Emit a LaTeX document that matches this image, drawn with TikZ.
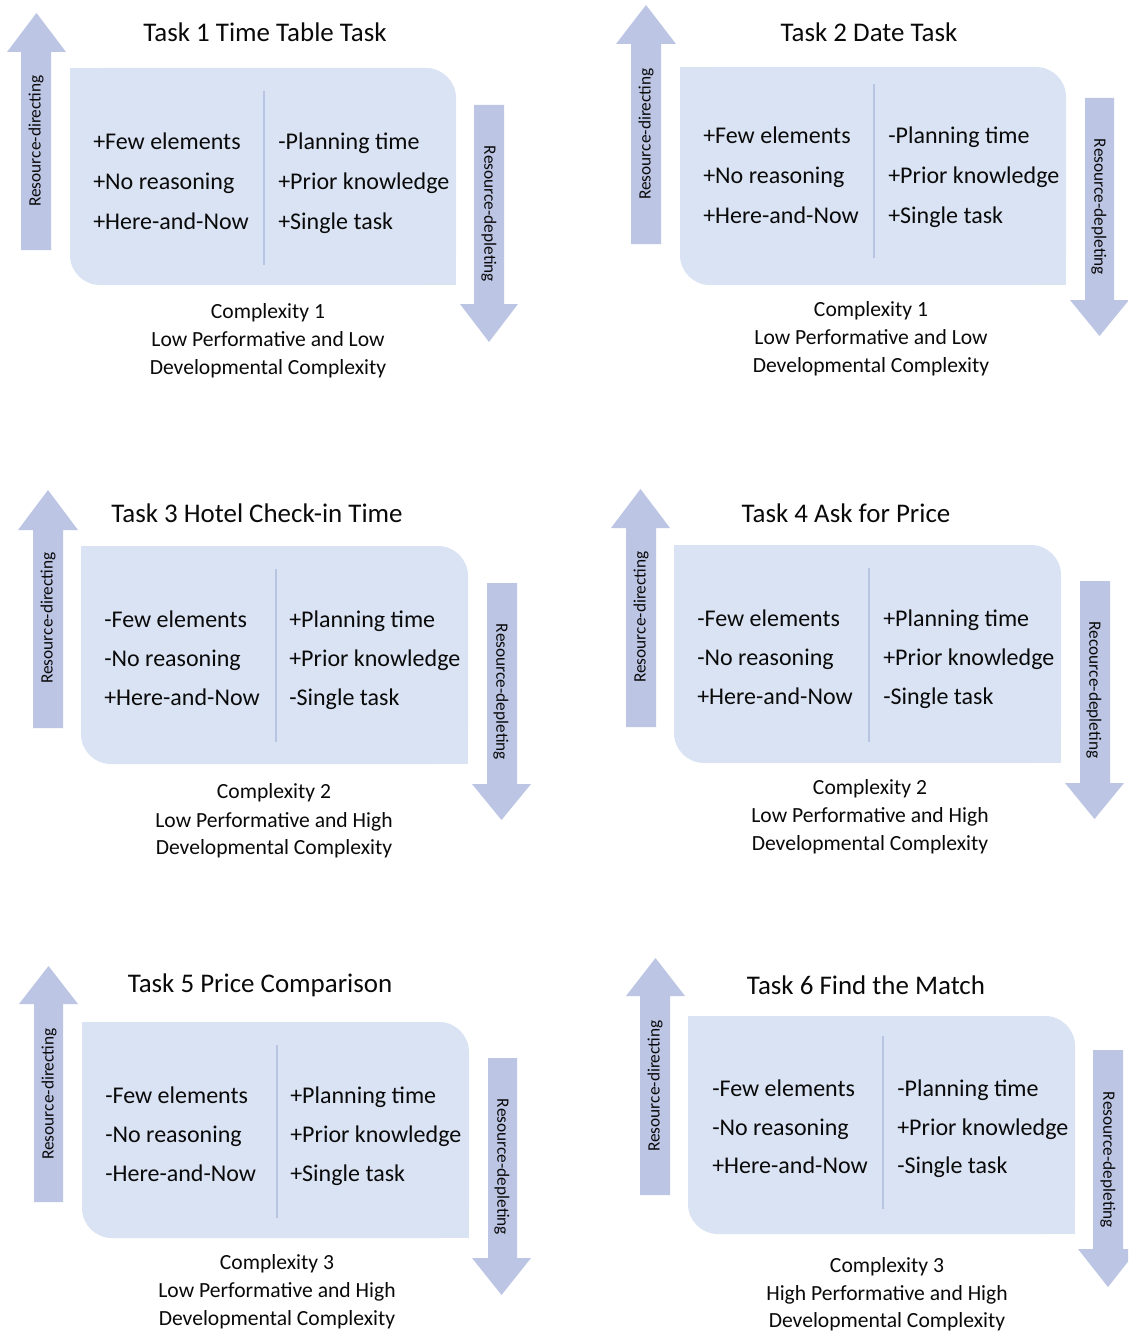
\documentclass[tikz,border=0pt]{standalone}
\usepackage{fontspec}
\setmainfont{Carlito}
\usetikzlibrary{calc}
\definecolor{arrowblue}{RGB}{188,197,228}
\definecolor{boxblue}{RGB}{218,227,243}
\definecolor{divblue}{RGB}{184,197,226}
\definecolor{txt}{RGB}{10,10,10}
\tikzset{
  arrowfill/.style={fill=arrowblue, draw=none},
  boxfill/.style={fill=boxblue, draw=none},
  divline/.style={draw=divblue, line width=1.1pt},
  item/.style={anchor=base west, font=\fontsize{18}{22}\selectfont, inner sep=0pt, text=txt},
  ttl/.style={anchor=base, font=\fontsize{20.2}{24}\selectfont, inner sep=0pt, text=txt},
  cmp/.style={anchor=base, font=\fontsize{16.2}{20}\selectfont, inner sep=0pt, text=txt},
  lblup/.style={font=\fontsize{13}{15}\selectfont, inner sep=0pt, rotate=90, text=txt},
  lbldown/.style={font=\fontsize{13}{15}\selectfont, inner sep=0pt, rotate=-90, text=txt}
}
% box with rounded top-right and bottom-left corners
\newcommand\diagbox[4]{%
  \fill[boxfill, rounded corners=22.5pt] (#1,#2) rectangle (#3,#4);
  \fill[boxfill] (#1,#2) rectangle ($(#1,#2)+(45,45)$);
  \fill[boxfill] ($(#3,#4)+(-45,-45)$) rectangle (#3,#4);
}
% block arrow: shaft x1 x2, tail y, head-base y, head x1 x2, tip y
\newcommand\blockarrow[7]{%
  \fill[arrowfill] (#1,#3) -- (#1,#4) -- (#5,#4) -- ({(#5+#6)/2},#7) -- (#6,#4) -- (#2,#4) -- (#2,#3) -- cycle;
}
\begin{document}
\begin{tikzpicture}[x=0.75pt,y=-0.75pt]
\useasboundingbox (0,0) rectangle (1128,1334);
\fill[white] (0,0) rectangle (1128,1334);
\clip (0,0) rectangle (1128,1334);

% ---------------- Panel 1 ----------------
\blockarrow{21}{51}{250}{52}{7}{66}{13}
\blockarrow{474}{504}{105}{304}{460}{518}{342}
\diagbox{70}{68}{456}{285}
\draw[divline] (264,91) -- (264,265);
\node[ttl] (t1) at (265,42) {Task 1 Time Table Task};
\node[item] (p1a) at (93,150) {+Few elements};
\node[item] (p1b) at (93,190) {+No reasoning};
\node[item] (p1c) at (93,229) {+Here-and-Now};
\node[item] (p1d) at (278,150) {-Planning time};
\node[item] (p1e) at (278,190) {+Prior knowledge};
\node[item] (p1f) at (278,229) {+Single task};
\node[cmp] (c1a) at (268,318) {Complexity 1};
\node[cmp] (c1b) at (268,346) {Low Performative and Low};
\node[cmp] (c1c) at (268,374) {Developmental Complexity};
\node[lblup] (u1) at (36,141) {Resource-directing};
\node[lbldown] (d1) at (489,214) {Resource-depleting};

% ---------------- Panel 2 ----------------
\blockarrow{631}{661}{244}{44}{616}{676}{5}
\blockarrow{1085}{1114}{98}{300}{1070}{1129}{336}
\diagbox{680}{67}{1066}{285}
\draw[divline] (874,84) -- (874,258);
\node[ttl] (t2) at (869,42) {Task 2 Date Task};
\node[item] (p2a) at (703,144) {+Few elements};
\node[item] (p2b) at (703,184) {+No reasoning};
\node[item] (p2c) at (703,223) {+Here-and-Now};
\node[item] (p2d) at (888,144) {-Planning time};
\node[item] (p2e) at (888,184) {+Prior knowledge};
\node[item] (p2f) at (888,223) {+Single task};
\node[cmp] (c2a) at (871,316) {Complexity 1};
\node[cmp] (c2b) at (871,344) {Low Performative and Low};
\node[cmp] (c2c) at (871,372) {Developmental Complexity};
\node[lblup] (u2) at (646,134) {Resource-directing};
\node[lbldown] (d2) at (1099,207) {Resource-depleting};

% ---------------- Panel 3 ----------------
\blockarrow{33}{63}{728}{530}{18}{78}{490}
\blockarrow{487}{517}{583}{784}{472}{531}{820}
\diagbox{81}{546}{468}{764}
\draw[divline] (276,569) -- (276,742);
\node[ttl] (t3) at (257,522) {Task 3 Hotel Check-in Time};
\node[item] (p3a) at (104,627) {-Few elements};
\node[item] (p3b) at (104,666) {-No reasoning};
\node[item] (p3c) at (104,705) {+Here-and-Now};
\node[item] (p3d) at (289,627) {+Planning time};
\node[item] (p3e) at (289,666) {+Prior knowledge};
\node[item] (p3f) at (289,705) {-Single task};
\node[cmp] (c3a) at (274,798) {Complexity 2};
\node[cmp] (c3b) at (274,827) {Low Performative and High};
\node[cmp] (c3c) at (274,854) {Developmental Complexity};
\node[lblup] (u3) at (48,618) {Resource-directing};
\node[lbldown] (d3) at (501,692) {Resource-depleting};

% ---------------- Panel 4 ----------------
\blockarrow{626}{656}{727}{528}{611}{670}{489}
\blockarrow{1080}{1110}{581}{783}{1065}{1124}{819}
\diagbox{674}{545}{1061}{763}
\draw[divline] (869,568) -- (869,742);
\node[ttl] (t4) at (846,522) {Task 4 Ask for Price};
\node[item] (p4a) at (697,626) {-Few elements};
\node[item] (p4b) at (697,665) {-No reasoning};
\node[item] (p4c) at (697,704) {+Here-and-Now};
\node[item] (p4d) at (883,626) {+Planning time};
\node[item] (p4e) at (883,665) {+Prior knowledge};
\node[item] (p4f) at (883,704) {-Single task};
\node[cmp] (c4a) at (870,794) {Complexity 2};
\node[cmp] (c4b) at (870,822) {Low Performative and High};
\node[cmp] (c4c) at (870,850) {Developmental Complexity};
\node[lblup] (u4) at (641,617) {Resource-directing};
\node[lbldown] (d4) at (1094,690) {Recource-depleting};

% ---------------- Panel 5 ----------------
\blockarrow{34}{63}{1202}{1004}{19}{78}{966}
\blockarrow{488}{517}{1058}{1258}{472}{531}{1295}
\diagbox{82}{1022}{469}{1238}
\draw[divline] (277,1045) -- (277,1218);
\node[ttl] (t5) at (260,992) {Task 5 Price Comparison};
\node[item] (p5a) at (105,1103) {-Few elements};
\node[item] (p5b) at (105,1142) {-No reasoning};
\node[item] (p5c) at (105,1181) {-Here-and-Now};
\node[item] (p5d) at (290,1103) {+Planning time};
\node[item] (p5e) at (290,1142) {+Prior knowledge};
\node[item] (p5f) at (290,1181) {+Single task};
\node[cmp] (c5a) at (277,1269) {Complexity 3};
\node[cmp] (c5b) at (277,1297) {Low Performative and High};
\node[cmp] (c5c) at (277,1325) {Developmental Complexity};
\node[lblup] (u5) at (49,1094) {Resource-directing};
\node[lbldown] (d5) at (502,1167) {Resource-depleting};

% ---------------- Panel 6 ----------------
\blockarrow{640}{670}{1195}{996}{626}{685}{958}
\blockarrow{1093}{1123}{1050}{1249}{1078}{1138}{1287}
\diagbox{688}{1016}{1075}{1234}
\draw[divline] (883,1036) -- (883,1209);
\node[ttl] (t6) at (866,994) {Task 6 Find the Match};
\node[item] (p6a) at (712,1096) {-Few elements};
\node[item] (p6b) at (712,1135) {-No reasoning};
\node[item] (p6c) at (712,1173) {+Here-and-Now};
\node[item] (p6d) at (897,1096) {-Planning time};
\node[item] (p6e) at (897,1135) {+Prior knowledge};
\node[item] (p6f) at (897,1173) {-Single task};
\node[cmp] (c6a) at (887,1272) {Complexity 3};
\node[cmp] (c6b) at (887,1300) {High Performative and High};
\node[cmp] (c6c) at (887,1327) {Developmental Complexity};
\node[lblup] (u6) at (655,1086) {Resource-directing};
\node[lbldown] (d6) at (1108,1160) {Resource-depleting};
\end{tikzpicture}
\end{document}
